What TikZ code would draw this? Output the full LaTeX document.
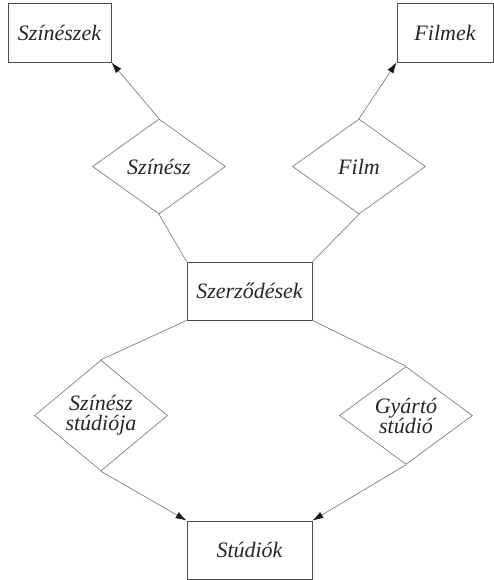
\documentclass[tikz,border=0pt]{standalone}
\usepackage{fontspec}
\setmainfont{Liberation Serif}
\usetikzlibrary{shapes.geometric,arrows.meta}
\begin{document}
\begin{tikzpicture}[x=1pt,y=-1pt,
  font=\fontsize{22}{24}\selectfont\itshape,
  entity/.style={draw=black!70,line width=0.8pt,rectangle,inner sep=0pt,text=black!85},
  rel/.style={draw=black!50,line width=0.7pt,diamond,inner sep=0pt,
    minimum width=133pt,minimum height=95pt,text=black!85,align=center},
  link/.style={draw=black!50,line width=0.7pt},
  arr/.style={link,-{Latex[length=11pt,width=7pt,color=black!90]}}]
\useasboundingbox (0,0) rectangle (494,580);
% entity sets
\node[entity,minimum width=103pt,minimum height=59pt] (szineszek) at (59.5,32.5) {Színészek};
\node[entity,minimum width=96pt,minimum height=59pt] (filmek) at (445,32.5) {Filmek};
\node[entity,minimum width=125pt,minimum height=58pt] (szerz) at (249.5,291) {Szerződések};
\node[entity,minimum width=125pt,minimum height=58pt] (studiok) at (249.5,550) {Stúdiók};
% relationships
\node[rel] (szinesz) at (159,166.5) {Színész};
\node[rel] (film) at (359,166.5) {Film};
\node[rel] (szstud) at (101,415.5) {Színész\\[-4pt]stúdiója};
\node[rel] (gystud) at (406,415.5) {Gyártó\\[-4pt]stúdió};
% connectors
\draw[arr] (szinesz.north) -- (szineszek.south east);
\draw[arr] (film.north) -- (filmek.south west);
\draw[link] (szinesz.south) -- (szerz.north west);
\draw[link] (film.south) -- (szerz.north east);
\draw[link] (szerz.south west) -- (szstud.north);
\draw[link] (szerz.south east) -- (gystud.north);
\draw[arr] (szstud.south) -- (studiok.north west);
\draw[arr] (gystud.south) -- (studiok.north east);
\end{tikzpicture}
\end{document}
